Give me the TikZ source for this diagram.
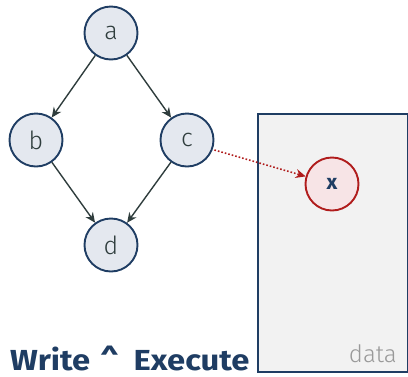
\documentclass[tikz,border=0pt]{standalone}
\usepackage{fontspec}
\setmainfont{Fira Sans}
\setsansfont{Fira Sans}
\newfontfamily\lightfont{Fira Sans Light}
\newfontfamily\widebold{Fira Sans}[FakeStretch=1.13]
\usetikzlibrary{arrows.meta}
\definecolor{navy}{HTML}{1F3D63}
\definecolor{nodefill}{HTML}{E4E8EF}
\definecolor{edgegray}{HTML}{2F3D3D}
\definecolor{accentred}{HTML}{B01C1C}
\definecolor{xfill}{HTML}{F7E4E6}
\definecolor{boxfill}{HTML}{F2F2F2}
\tikzset{
  vertex/.style={circle, draw=navy, fill=nodefill, line width=1.9pt,
    minimum size=53pt, inner sep=0pt, text=edgegray, font=\lightfont\fontsize{25}{25}\selectfont},
  hot/.style={circle, draw=accentred, fill=xfill, line width=1.9pt,
    minimum size=53pt, inner sep=0pt, text=navy, font=\fontsize{21}{21}\selectfont\bfseries},
  edge/.style={draw=edgegray, line width=1.4pt, -{Stealth[length=10pt,width=9pt]}},
  link/.style={draw=accentred, line width=1.6pt, dotted, -{Stealth[length=10pt,width=9pt]}},
}
\begin{document}
\begin{tikzpicture}[x=1pt, y=-1pt]
  \useasboundingbox (0,0) rectangle (408,376);
  % memory region
  \node[draw=navy, fill=boxfill, line width=1.5pt, minimum width=150pt, minimum height=258pt,
        inner sep=0pt, anchor=north west] (data) at (257,113) {};
  \node[text=gray!80, font=\lightfont\fontsize{24}{24}\selectfont, anchor=base east, inner sep=0pt] (datalbl)
        at (397,362) {data};
  % dependency graph
  \node[vertex] (a) at (111,33) {a};
  \node[vertex] (b) at (36,140) {b};
  \node[vertex] (c) at (187,140) {c};
  \node[vertex] (d) at (111,245) {d};
  \node[hot] (x) at (332,184) {x};
  \draw[edge] (a) -- (b);
  \draw[edge] (a) -- (c);
  \draw[edge] (b) -- (d);
  \draw[edge] (c) -- (d);
  \draw[link] (c.east) ++(0,10) coordinate (cstart) -- (x);
  % title
  \node[anchor=base west, text=navy, font=\widebold\fontsize{29}{29}\selectfont\bfseries, inner sep=0pt]
        (title) at (10,370) {Write\hspace{10pt}\textasciicircum\hspace{15pt}Execute};
\end{tikzpicture}
\end{document}
